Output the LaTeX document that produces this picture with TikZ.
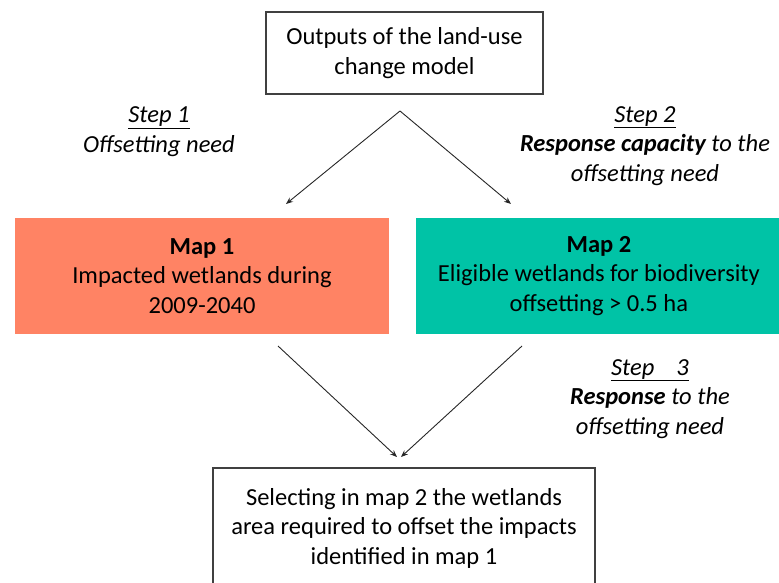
\documentclass[tikz,border=0pt]{standalone}
\usepackage{fontspec}
\setmainfont{Carlito}
\usepackage{xcolor}
\usepackage{tikz}
\usetikzlibrary{arrows.meta,positioning,calc}
\definecolor{mapone}{HTML}{FF8364}
\definecolor{maptwo}{HTML}{00C3A6}

\begin{document}
\begin{tikzpicture}[
    x=1pt, y=1pt,
    node distance=27pt,
    font=\fontsize{24.5}{29.5}\selectfont,
    plainbox/.style={rectangle, draw=black!75, line width=1.1pt, align=center, fill=white, inner sep=0pt},
    mapbox/.style={rectangle, draw=none, minimum width=374pt, minimum height=116.5pt, align=center, inner sep=0pt},
    steptext/.style={align=center, font=\fontsize{24.5}{29.5}\selectfont\itshape},
    arrow/.style={-{Stealth[length=7pt,width=5.5pt]}, line width=0.9pt, black!85}
]
    \useasboundingbox (0,0) rectangle (779,-583);

    % Model output
    \node[plainbox, minimum width=277pt, minimum height=82pt] (model) at (404.5,-53) {Outputs of the land-use\\change model};

    % Maps
    \node[mapbox, fill=mapone] (map1) at (202,-276) {\textbf{Map 1}\\Impacted wetlands during\\2009-2040};
    \node[mapbox, fill=maptwo, minimum width=365pt, right=of map1] (map2) {\textbf{Map 2}\\Eligible wetlands for biodiversity\\offsetting > 0.5 ha};

    % Selection
    \node[plainbox, minimum width=382pt, minimum height=120pt] (select) at (404,-528) {Selecting in map 2 the wetlands\\area required to offset the impacts\\identified in map 1};

    % Step labels
    \node[steptext] (step1) at (159,-131.5) {\underline{Step 1}\\Offsetting need};
    \node[steptext] (step2) at (645,-146) {\underline{Step 2}\\\textbf{Response capacity} to the\\offsetting need};
    \node[steptext] (step3) at (650,-399) {\underline{Step\hspace{0.9em}3}\\\textbf{Response} to the\\offsetting need};

    % Connectors
    \coordinate (split) at (400,-111);
    \coordinate (in1) at (286,-204);
    \coordinate (in2) at (511,-204);
    \coordinate (out1) at (278,-346);
    \coordinate (out2) at (522,-346);
    \coordinate (join1) at (397,-457);
    \coordinate (join2) at (401,-457);
    \draw[arrow] (split) -- (in1);
    \draw[arrow] (split) -- (in2);
    \draw[arrow] (out1) -- (join1);
    \draw[arrow] (out2) -- (join2);
\end{tikzpicture}
\end{document}
